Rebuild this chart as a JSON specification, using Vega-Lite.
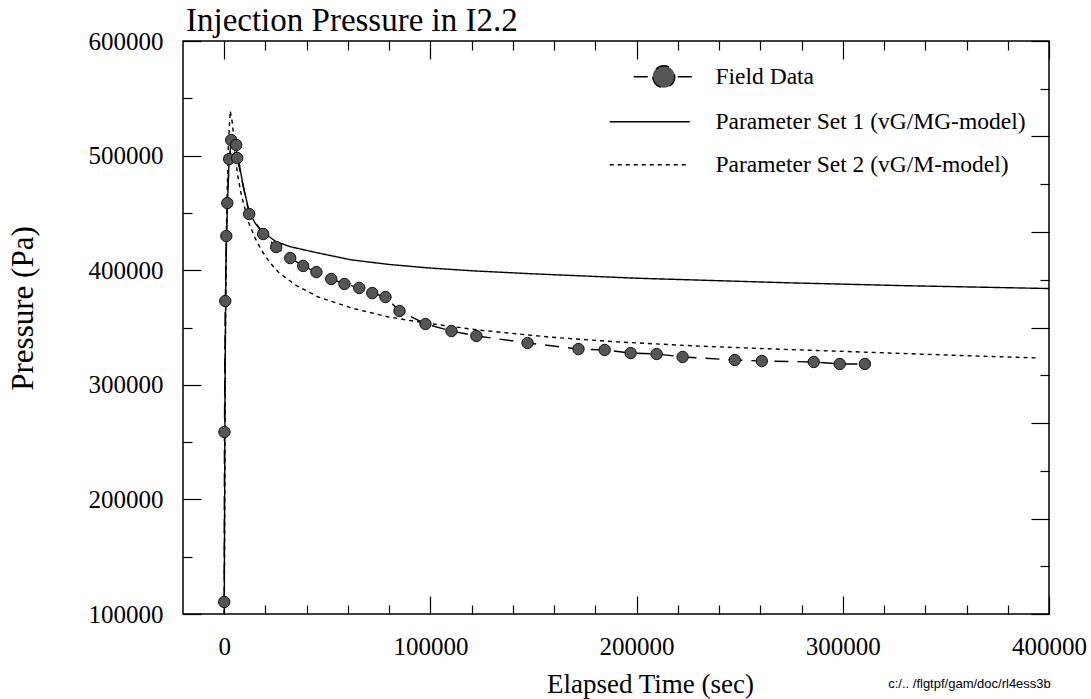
{
  "$schema": "https://vega.github.io/schema/vega-lite/v6.json",
  "autosize": {"type": "none"},
  "padding": {"left": 183, "top": 41, "right": 42, "bottom": 85},
  "width": 866,
  "height": 573,
  "background": "white",
  "title": {"text": "Injection Pressure in I2.2", "anchor": "start", "frame": "group", "font": "Liberation Serif", "fontSize": 33, "fontWeight": "normal", "color": "black", "baseline": "alphabetic", "offset": -5, "dx": 3, "dy": 30},
  "config": {
    "view": {"stroke": "black", "strokeWidth": 1.5},
    "axis": {"grid": false, "domain": false, "tickColor": "black", "tickWidth": 1.2, "labelColor": "black", "titleColor": "black", "labelFont": "Liberation Serif", "titleFont": "Liberation Serif", "labelFontSize": 25, "titleFontWeight": "normal", "labelFlush": false, "labelOverlap": false, "labelBound": false}
  },
  "datasets": {
    "rows": [
      {"series": "Field Data", "t": 0, "p": 110500},
      {"series": "Field Data", "t": 100, "p": 258800},
      {"series": "Field Data", "t": 500, "p": 373100},
      {"series": "Field Data", "t": 1000, "p": 429800},
      {"series": "Field Data", "t": 1500, "p": 458600},
      {"series": "Field Data", "t": 2400, "p": 497000},
      {"series": "Field Data", "t": 3400, "p": 513600},
      {"series": "Field Data", "t": 5800, "p": 509300},
      {"series": "Field Data", "t": 6300, "p": 497900},
      {"series": "Field Data", "t": 12100, "p": 449000},
      {"series": "Field Data", "t": 18900, "p": 431600},
      {"series": "Field Data", "t": 25200, "p": 420200},
      {"series": "Field Data", "t": 32000, "p": 410600},
      {"series": "Field Data", "t": 38300, "p": 403700},
      {"series": "Field Data", "t": 44700, "p": 398400},
      {"series": "Field Data", "t": 51900, "p": 392300},
      {"series": "Field Data", "t": 58300, "p": 388000},
      {"series": "Field Data", "t": 65500, "p": 384500},
      {"series": "Field Data", "t": 71800, "p": 380100},
      {"series": "Field Data", "t": 78200, "p": 376600},
      {"series": "Field Data", "t": 85000, "p": 364400},
      {"series": "Field Data", "t": 97600, "p": 353100},
      {"series": "Field Data", "t": 110200, "p": 346900},
      {"series": "Field Data", "t": 122300, "p": 342600},
      {"series": "Field Data", "t": 147100, "p": 336500},
      {"series": "Field Data", "t": 171800, "p": 331200},
      {"series": "Field Data", "t": 184500, "p": 330400},
      {"series": "Field Data", "t": 197100, "p": 327700},
      {"series": "Field Data", "t": 209700, "p": 326900},
      {"series": "Field Data", "t": 222300, "p": 324300},
      {"series": "Field Data", "t": 247600, "p": 321600},
      {"series": "Field Data", "t": 260700, "p": 320800},
      {"series": "Field Data", "t": 285900, "p": 319900},
      {"series": "Field Data", "t": 298500, "p": 318200},
      {"series": "Field Data", "t": 310700, "p": 318200},
      {"series": "Parameter Set 1 (vG/MG-model)", "t": 0, "p": 100000},
      {"series": "Parameter Set 1 (vG/MG-model)", "t": 400, "p": 300000},
      {"series": "Parameter Set 1 (vG/MG-model)", "t": 800, "p": 400000},
      {"series": "Parameter Set 1 (vG/MG-model)", "t": 1500, "p": 455000},
      {"series": "Parameter Set 1 (vG/MG-model)", "t": 2300, "p": 493000},
      {"series": "Parameter Set 1 (vG/MG-model)", "t": 3200, "p": 510000},
      {"series": "Parameter Set 1 (vG/MG-model)", "t": 4200, "p": 514000},
      {"series": "Parameter Set 1 (vG/MG-model)", "t": 5200, "p": 509000},
      {"series": "Parameter Set 1 (vG/MG-model)", "t": 6800, "p": 498000},
      {"series": "Parameter Set 1 (vG/MG-model)", "t": 9000, "p": 475000},
      {"series": "Parameter Set 1 (vG/MG-model)", "t": 12100, "p": 451000},
      {"series": "Parameter Set 1 (vG/MG-model)", "t": 15000, "p": 441000},
      {"series": "Parameter Set 1 (vG/MG-model)", "t": 18900, "p": 433000},
      {"series": "Parameter Set 1 (vG/MG-model)", "t": 25000, "p": 425000},
      {"series": "Parameter Set 1 (vG/MG-model)", "t": 32000, "p": 420500},
      {"series": "Parameter Set 1 (vG/MG-model)", "t": 45600, "p": 415000},
      {"series": "Parameter Set 1 (vG/MG-model)", "t": 61700, "p": 409000},
      {"series": "Parameter Set 1 (vG/MG-model)", "t": 80000, "p": 405000},
      {"series": "Parameter Set 1 (vG/MG-model)", "t": 99000, "p": 402000},
      {"series": "Parameter Set 1 (vG/MG-model)", "t": 120000, "p": 399500},
      {"series": "Parameter Set 1 (vG/MG-model)", "t": 147600, "p": 397000},
      {"series": "Parameter Set 1 (vG/MG-model)", "t": 200000, "p": 393000},
      {"series": "Parameter Set 1 (vG/MG-model)", "t": 273800, "p": 389000},
      {"series": "Parameter Set 1 (vG/MG-model)", "t": 330000, "p": 386500},
      {"series": "Parameter Set 1 (vG/MG-model)", "t": 400000, "p": 384000},
      {"series": "Parameter Set 2 (vG/M-model)", "t": 0, "p": 100000},
      {"series": "Parameter Set 2 (vG/M-model)", "t": 500, "p": 330000},
      {"series": "Parameter Set 2 (vG/M-model)", "t": 1200, "p": 450000},
      {"series": "Parameter Set 2 (vG/M-model)", "t": 2000, "p": 510000},
      {"series": "Parameter Set 2 (vG/M-model)", "t": 2900, "p": 539000},
      {"series": "Parameter Set 2 (vG/M-model)", "t": 4000, "p": 528000},
      {"series": "Parameter Set 2 (vG/M-model)", "t": 5000, "p": 505000},
      {"series": "Parameter Set 2 (vG/M-model)", "t": 6500, "p": 483000},
      {"series": "Parameter Set 2 (vG/M-model)", "t": 8300, "p": 465600},
      {"series": "Parameter Set 2 (vG/M-model)", "t": 11700, "p": 442000},
      {"series": "Parameter Set 2 (vG/M-model)", "t": 15000, "p": 428000},
      {"series": "Parameter Set 2 (vG/M-model)", "t": 18000, "p": 417600},
      {"series": "Parameter Set 2 (vG/M-model)", "t": 22000, "p": 407000},
      {"series": "Parameter Set 2 (vG/M-model)", "t": 26200, "p": 398400},
      {"series": "Parameter Set 2 (vG/M-model)", "t": 34500, "p": 387100},
      {"series": "Parameter Set 2 (vG/M-model)", "t": 45600, "p": 376600},
      {"series": "Parameter Set 2 (vG/M-model)", "t": 61700, "p": 367000},
      {"series": "Parameter Set 2 (vG/M-model)", "t": 79600, "p": 359200},
      {"series": "Parameter Set 2 (vG/M-model)", "t": 97600, "p": 353900},
      {"series": "Parameter Set 2 (vG/M-model)", "t": 123300, "p": 347800},
      {"series": "Parameter Set 2 (vG/M-model)", "t": 157300, "p": 341700},
      {"series": "Parameter Set 2 (vG/M-model)", "t": 190000, "p": 337500},
      {"series": "Parameter Set 2 (vG/M-model)", "t": 228600, "p": 333900},
      {"series": "Parameter Set 2 (vG/M-model)", "t": 270000, "p": 331000},
      {"series": "Parameter Set 2 (vG/M-model)", "t": 309200, "p": 328600},
      {"series": "Parameter Set 2 (vG/M-model)", "t": 350000, "p": 326000},
      {"series": "Parameter Set 2 (vG/M-model)", "t": 395000, "p": 323400}
    ]
  },
  "data": {"name": "rows"},
  "resolve": {"axis": {"x": "independent", "y": "independent"}},
  "layer": [
    {
      "mark": {"type": "line", "color": "black", "strokeWidth": 1.4, "clip": true},
      "encoding": {
        "x": {"field": "t", "type": "quantitative", "scale": {"domain": [-20000, 400000], "nice": false, "zero": false},
          "axis": {"orient": "bottom", "values": [0,20000,40000,60000,80000,100000,120000,140000,160000,180000,200000,220000,240000,260000,280000,300000,320000,340000,360000,380000,400000],
            "format": "d", "labelExpr": "datum.value % 100000 === 0 ? datum.label : ''",
            "tickSize": {"condition": {"test": "datum.value % 100000 === 0", "value": -18}, "value": -9},
            "labelPadding": 38, "title": "Elapsed Time (sec)", "titleFontSize": 27, "titleX": 467, "titleY": 78, "titleAlign": "center", "titleBaseline": "alphabetic"}},
        "y": {"field": "p", "type": "quantitative", "scale": {"domain": [100000, 600000], "nice": false, "zero": false},
          "axis": {"orient": "left", "values": [100000,150000,200000,250000,300000,350000,400000,450000,500000,550000,600000],
            "format": "d", "labelExpr": "datum.value % 100000 === 0 ? datum.label : ''",
            "tickSize": {"condition": {"test": "datum.value % 100000 === 0", "value": -18}, "value": -9},
            "labelPadding": 38, "title": "Pressure (Pa)", "titleFontSize": 31, "titleX": -160, "titleY": 267, "titleAlign": "center", "titleBaseline": "middle", "titleAngle": 270}},
        "strokeDash": {"field": "series", "type": "nominal",
          "scale": {"domain": ["Field Data", "Parameter Set 1 (vG/MG-model)", "Parameter Set 2 (vG/M-model)"], "range": [[14, 9], [1, 0], [4, 4]]},
          "legend": {"orient": "none", "legendX": 455, "legendY": 24, "title": null, "padding": 0,
            "labelFont": "Liberation Serif", "labelFontSize": 23.5, "labelColor": "black", "labelLimit": 0, "labelOffset": 54, "labelBaseline": "middle",
            "symbolSize": 400, "symbolStrokeColor": "black", "symbolStrokeWidth": 1.4, "rowPadding": 18,
            "encode": {"symbols": {"update": {
              "shape": {"signal": "datum.value === 'Field Data' ? 'M-1.6,0H0M2.8,0H4.2M0.3,0A1.1,1.1 0 1,0 2.5,0A1.1,1.1 0 1,0 0.3,0' : 'M-4,0H4'"},
              "fill": {"signal": "datum.value === 'Field Data' ? '#555555' : 'transparent'"},
              "stroke": {"value": "black"},
              "strokeDash": {"signal": "datum.value === 'Parameter Set 2 (vG/M-model)' ? [4, 4] : [1, 0]"}
            }}}}}
      }
    },
    {
      "transform": [{"filter": "datum.series === 'Field Data'"}],
      "mark": {"type": "point", "filled": true, "fill": "#555555", "stroke": "#111111", "strokeWidth": 1, "size": 130, "opacity": 1},
      "encoding": {
        "x": {"field": "t", "type": "quantitative", "scale": {"domain": [-20000, 400000], "nice": false, "zero": false},
          "axis": {"orient": "top", "values": [0,20000,40000,60000,80000,100000,120000,140000,160000,180000,200000,220000,240000,260000,280000,300000,320000,340000,360000,380000,400000],
            "labels": false,
            "tickSize": {"condition": {"test": "datum.value % 100000 === 0", "value": -18}, "value": -9},
            "title": "c:/.. /flgtpf/gam/doc/rl4ess3b", "titleFont": "Liberation Sans", "titleFontSize": 13, "titleX": 786, "titleY": 642, "titleAlign": "center", "titleBaseline": "middle", "titleAngle": 0}},
        "y": {"field": "p", "type": "quantitative", "scale": {"domain": [100000, 600000], "nice": false, "zero": false},
          "axis": {"orient": "right", "values": [100000,141666.667,183333.333,225000,266666.667,308333.333,350000,391666.667,433333.333,475000,516666.667,558333.333,600000],
            "labels": false, "title": null,
            "tickSize": {"condition": {"test": "abs((datum.value - 100000) / 83333.3333 - round((datum.value - 100000) / 83333.3333)) < 0.01", "value": -18}, "value": -9}}}
      }
    }
  ]
}
